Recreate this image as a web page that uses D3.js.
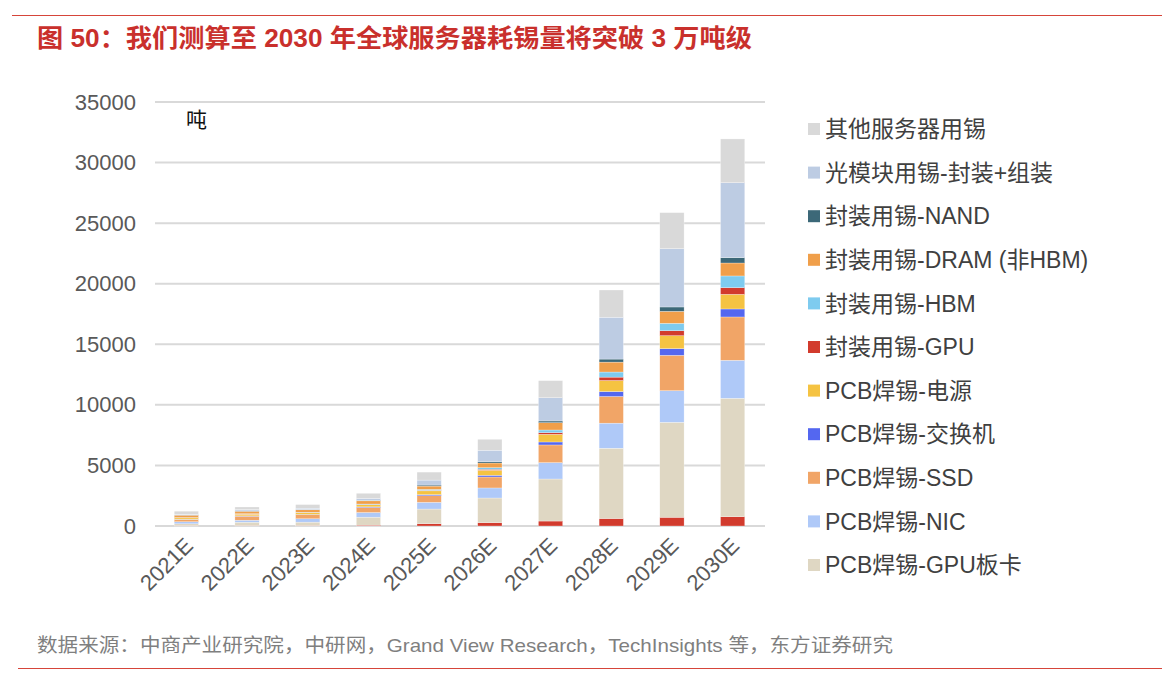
<!DOCTYPE html>
<html>
<head>
<meta charset="utf-8">
<script src="https://cdn.jsdelivr.net/npm/d3@7"></script>
<style>
  html, body { margin:0; padding:0; background:#fff; }
  #chart { width:1174px; height:686px; }
  text { font-family: "Liberation Sans", Arial, "Noto Sans CJK SC", sans-serif; }
</style>
</head>
<body>
<div id="chart"></div>
<script>
!(function(){
    "use strict"

    // tick labels / categories
    var years = ["2021E","2022E","2023E","2024E","2025E","2026E","2027E","2028E","2029E","2030E"]
    var yTicks = [0,5000,10000,15000,20000,25000,30000,35000]

    // series values (吨), stacked bottom -> top
    var baseRed   = [30, 35, 40, 70, 190, 275, 410, 620, 720, 770]   // red base segment, not in legend
    var gpuBoard  = [150, 280, 280, 660, 1210, 2035, 3470, 5800, 7840, 9770]
    var nic       = [170, 165, 275, 385, 555, 830, 1350, 2070, 2610, 3140]
    var ssd       = [190, 330, 330, 415, 545, 905, 1460, 2200, 2920, 3575]
    var switches  = [20, 25, 30, 50, 85, 140, 245, 410, 550, 660]
    var power     = [110, 140, 140, 170, 315, 415, 635, 910, 1070, 1210]
    var gpuPkg    = [10, 15, 15, 25, 40, 80, 135, 280, 410, 550]
    var hbm       = [15, 20, 25, 40, 80, 135, 220, 420, 610, 965]
    var dram      = [200, 210, 200, 260, 275, 385, 605, 820, 990, 1070]
    var nand      = [20, 25, 25, 40, 85, 110, 140, 250, 360, 440]
    var optical   = [60, 110, 110, 160, 410, 940, 1920, 3450, 4815, 6190]
    var other     = [250, 215, 300, 425, 660, 910, 1410, 2250, 2970, 3610]

    var series = [
        {key:"base",     name:"封装用锡-其他", values:baseRed,  color:"#d23b2d", legend:false},
        {key:"gpuBoard", name:"PCB焊锡-GPU板卡", values:gpuBoard, color:"#dfd7c3", legend:true},
        {key:"nic",      name:"PCB焊锡-NIC", values:nic, color:"#afc9f8", legend:true},
        {key:"ssd",      name:"PCB焊锡-SSD", values:ssd, color:"#f1a567", legend:true},
        {key:"switches", name:"PCB焊锡-交换机", values:switches, color:"#5467f0", legend:true},
        {key:"power",    name:"PCB焊锡-电源", values:power, color:"#f5c342", legend:true},
        {key:"gpuPkg",   name:"封装用锡-GPU", values:gpuPkg, color:"#d23b2d", legend:true},
        {key:"hbm",      name:"封装用锡-HBM", values:hbm, color:"#7ecbef", legend:true},
        {key:"dram",     name:"封装用锡-DRAM (非HBM)", values:dram, color:"#f09f4a", legend:true},
        {key:"nand",     name:"封装用锡-NAND", values:nand, color:"#3c6878", legend:true},
        {key:"optical",  name:"光模块用锡-封装+组装", values:optical, color:"#bdcce3", legend:true},
        {key:"other",    name:"其他服务器用锡", values:other, color:"#d9d9d9", legend:true}
    ]

    var width = 1174, height = 686
    var svg = d3.select("#chart").append("svg")
        .attr("width", width).attr("height", height)

    // table for the stack
    var table = years.map(function(y, i) {
        var row = {year: y}
        series.forEach(function(s) { row[s.key] = s.values[i] })
        return row
    })

    var stack = d3.stack().keys(series.map(function(s) { return s.key }))
    var stacked = stack(table)

    var x = d3.scaleBand().domain(years).range([156, 763]).paddingInner(0.6).paddingOuter(0.3)
    var y = d3.scaleLinear().domain([0, 35000]).range([526, 102])

    // header rule + title
    svg.append("line").attr("x1", 12).attr("x2", 1162).attr("y1", 15.5).attr("y2", 15.5)
        .attr("stroke", "#d6453a").attr("stroke-width", 1.2)
    svg.append("text").attr("x", 37).attr("y", 47)
        .attr("fill", "#c9302c").attr("font-size", 25).attr("font-weight", "bold")
        .attr("textLength", 715).attr("lengthAdjust", "spacingAndGlyphs")
        .text("图 50：我们测算至 2030 年全球服务器耗锡量将突破 3 万吨级")

    // gridlines
    svg.append("g").selectAll("line").data(yTicks).enter().append("line")
        .attr("x1", 155).attr("x2", 765)
        .attr("y1", function(d) { return y(d) }).attr("y2", function(d) { return y(d) })
        .attr("stroke", "#d9d9d9").attr("stroke-width", 2)

    // y axis
    var yAxis = svg.append("g").attr("transform", "translate(140,0)")
        .call(d3.axisLeft(y).tickValues(yTicks).tickSize(0).tickPadding(4).tickFormat(d3.format("d")))
    yAxis.select(".domain").remove()
    yAxis.selectAll("text").attr("font-size", 22).attr("fill", "#595959")
        .attr("font-family", "Liberation Sans, Arial, sans-serif")

    svg.append("text").attr("x", 186).attr("y", 127).attr("font-size", 21).attr("fill", "#111")
        .attr("font-family", "Noto Sans CJK SC").text("吨")

    // bars
    var layer = svg.append("g").selectAll("g").data(stacked).enter().append("g")
        .attr("fill", function(d, i) { return series[i].color })
    layer.selectAll("rect").data(function(d) { return d }).enter().append("rect")
        .attr("x", function(d) { return x(d.data.year) })
        .attr("width", x.bandwidth())
        .attr("y", function(d) { return y(d[1]) })
        .attr("height", function(d) { return y(d[0]) - y(d[1]) })
        .attr("stroke", "#ffffff").attr("stroke-width", 0.4).attr("stroke-opacity", 0.7)

    // x axis labels
    var xAxis = svg.append("g").attr("transform", "translate(0,526)")
        .call(d3.axisBottom(x).tickSize(0).tickPadding(0))
    xAxis.select(".domain").remove()
    xAxis.selectAll("text")
        .attr("font-size", 22).attr("fill", "#595959")
        .attr("font-family", "Liberation Sans, Arial, sans-serif")
        .attr("text-anchor", "end")
        .attr("dy", 0)
        .attr("transform", "translate(8,21) rotate(-45)")

    // legend (top to bottom: reverse of stack, base segment skipped)
    var legendItems = series.filter(function(s) { return s.legend }).reverse()
    var lg = svg.append("g").selectAll("g").data(legendItems).enter().append("g")
        .attr("transform", function(d, i) { return "translate(808," + (129 + i * 43.6) + ")" })
    lg.append("rect").attr("x", 0).attr("y", -6).attr("width", 12).attr("height", 12)
        .attr("fill", function(d) { return d.color })
    lg.append("text").attr("x", 17).attr("dy", "0.36em").attr("font-size", 23).attr("fill", "#404040")
        .text(function(d) { return d.name })

    // footer
    svg.append("text").attr("x", 37).attr("y", 652).attr("font-size", 19).attr("fill", "#7f7f7f")
        .attr("textLength", 856).attr("lengthAdjust", "spacingAndGlyphs")
        .text("数据来源：中商产业研究院，中研网，Grand View Research，TechInsights 等，东方证券研究")
    svg.append("line").attr("x1", 18).attr("x2", 1162).attr("y1", 668.5).attr("y2", 668.5)
        .attr("stroke", "#d6453a").attr("stroke-width", 1.2)
}());
</script>
</body>
</html>
